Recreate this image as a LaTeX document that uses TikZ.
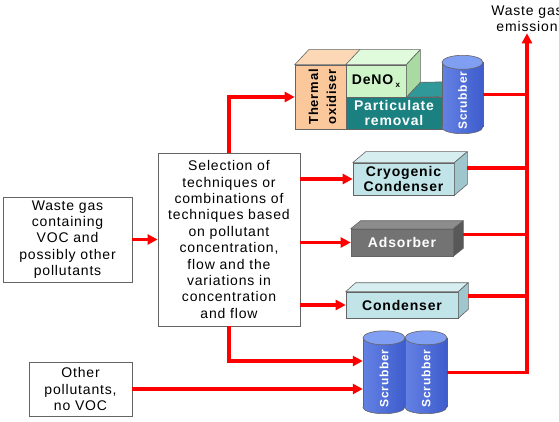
\documentclass[tikz,border=0pt]{standalone}
\usepackage{fontspec}
\setmainfont{Liberation Sans}[LetterSpace=6]
\usetikzlibrary{arrows.meta}

\definecolor{edge}{RGB}{100,100,100}
\definecolor{peach}{RGB}{250,200,155}
\definecolor{peachtop}{RGB}{252,216,182}
\definecolor{mint}{RGB}{205,245,200}
\definecolor{minttop}{RGB}{224,250,220}
\definecolor{mintside}{RGB}{168,218,162}
\definecolor{partteal}{RGB}{26,128,128}
\definecolor{partteallt}{RGB}{48,152,152}
\definecolor{ice}{RGB}{192,228,232}
\definecolor{icetop}{RGB}{214,238,240}
\definecolor{iceside}{RGB}{158,198,204}
\definecolor{slate}{RGB}{115,115,115}
\definecolor{slatetop}{RGB}{140,140,140}
\definecolor{slateside}{RGB}{88,88,88}
\definecolor{scrl}{RGB}{100,130,228}
\definecolor{scrr}{RGB}{62,92,204}
\definecolor{scrtop}{RGB}{128,158,242}

\newcommand\boxfont{\fontsize{14}{16.4}\selectfont}
\newcommand\cubefont{\bfseries\fontsize{14}{15.5}\selectfont}
\newcommand\scrfont{\bfseries\fontsize{12}{14}\selectfont}
\newcommand\thermfont{\bfseries\fontsize{13}{18}\selectfont}

\begin{document}
\begin{tikzpicture}[x=1pt, y=1pt, every node/.style={font=\boxfont},
  >={Triangle[length=10pt,width=10pt]},
  flow/.style={red, line width=3.2pt},
  plain/.style={draw=edge, line width=0.8pt, fill=white, align=center, inner sep=0pt},
  cube/.style={draw=edge, line width=0.6pt, inner sep=0pt, align=center, font=\cubefont},
  face/.style={draw=edge, line width=0.6pt, line join=round},
  body/.style={minimum width=42pt, minimum height=69pt, inner sep=0pt, left color=scrl, right color=scrr},
  scrlabel/.style={rotate=90, white, inner sep=0pt, font=\scrfont}]
	\useasboundingbox (0,0) rectangle (559,-422);
	% input boxes
	\node[plain, minimum width=129pt, minimum height=85pt] (waste) at (67.5,-239.5) {Waste gas\\containing\\VOC and\\possibly other\\pollutants};
	\node[plain, minimum width=103pt, minimum height=54pt] (other) at (80.5,-389) {Other\\pollutants,\\no VOC};
	\node[plain, minimum width=142pt, minimum height=173pt] (select) at (229,-239.5) {Selection of\\techniques or\\combinations of\\techniques based\\on pollutant\\concentration,\\flow and the\\variations in\\concentration\\and flow};
	% thermal train
	\node[cube, fill=peach, minimum width=51pt, minimum height=64pt] (therm) at (320.5,-97) {};
	\node[cube, fill=partteal, text=white, minimum width=96pt, minimum height=32pt] (part) at (394,-113) {Particulate\\removal};
	\node[cube, fill=mint, minimum width=60pt, minimum height=32pt] (denox) at (376,-81) {DeNO\,\raisebox{-3pt}{\fontsize{8}{8}\selectfont x}};
	\draw[face, fill=peachtop] (therm.north west) -- ++(14,15) -- ([shift={(14,15)}]therm.north east) -- (therm.north east) -- cycle;
	\draw[face, fill=partteallt] (denox.south east) -- ++(14,15) -- ([shift={(14,15)}]part.north east) -- (part.north east) -- cycle;
	\draw[face, fill=minttop] (denox.north west) -- ++(14,15) -- ([shift={(14,15)}]denox.north east) -- (denox.north east) -- cycle;
	\draw[face, fill=mintside] (denox.north east) -- ++(14,15) -- ([shift={(14,15)}]denox.south east) -- (denox.south east) -- cycle;
	\node[rotate=90, font=\thermfont, align=center, inner sep=0pt] (thermtxt) at ([xshift=2pt]therm) {Thermal\\oxidiser};
	% single stage units
	\node[cube, fill=ice, minimum width=101pt, minimum height=32pt] (cryo) at (403.5,-179) {Cryogenic\\Condenser};
	\node[cube, fill=slate, text=white, minimum width=102pt, minimum height=27pt] (adso) at (402,-242.5) {Adsorber};
	\node[cube, fill=ice, minimum width=112pt, minimum height=26pt] (cond) at (402,-305) {Condenser};
	\foreach \n/\dx/\dy/\tc/\sc in {cryo/13/11/icetop/iceside, adso/10/8/slatetop/slateside, cond/10/9/icetop/iceside} {
		\draw[face, fill=\tc] (\n.north west) -- ++(\dx,\dy) -- ([shift={(\dx,\dy)}]\n.north east) -- (\n.north east) -- cycle;
		\draw[face, fill=\sc] (\n.north east) -- ++(\dx,\dy) -- ([shift={(\dx,\dy)}]\n.south east) -- (\n.south east) -- cycle;
		\coordinate (\n out) at ([shift={(\dx,\dy)}]\n.east);
	}
	% scrubbers
	\node[body, minimum width=41pt, minimum height=64.5pt] (scrT) at (462.5,-94.75) {};
	\node[body] (scrB) at (426,-372.5) {};
	\node[body] (scrA) at (384,-372.5) {};
	\foreach \s/\r in {scrT/20.5, scrB/21, scrA/21} {
		\draw[face, left color=scrl, right color=scrr] (\s.south west) arc[start angle=180, end angle=360, x radius=\r, y radius=6.5];
		\draw[face] (\s.south west) -- (\s.north west) (\s.south east) -- (\s.north east);
		\draw[face, fill=scrtop] (\s.north) ellipse[x radius=\r, y radius=7];
		\node[scrlabel] (\s lbl) at ([yshift=-6pt]\s) {Scrubber};
	}
	% flows
	\node[align=center, inner sep=1pt] (emis) at (527,-19) {Waste gas\\emission};
	\draw[flow,->] (waste) -- (select);
	\draw[flow,->] (select.north) |- (therm.west);
	\draw[flow,->] (select.east |- cryo.west) -- (cryo.west);
	\draw[flow,->] (select.east |- adso.west) -- (adso.west);
	\draw[flow,->] (select.east |- cond.west) -- (cond.west);
	\draw[flow,->] (select.south) |- ([yshift=11.5pt]scrA.west);
	\draw[flow,->] (other.east) -- (other.east -| scrA.west);
	\draw[flow] (scrT.east) -- (scrT.east -| emis.south);
	\foreach \n in {cryo, adso, cond}
		\draw[flow] (\n out) -- (\n out -| emis.south);
	\draw[flow,->] (scrB.east) -| (emis.south);
\end{tikzpicture}
\end{document}
